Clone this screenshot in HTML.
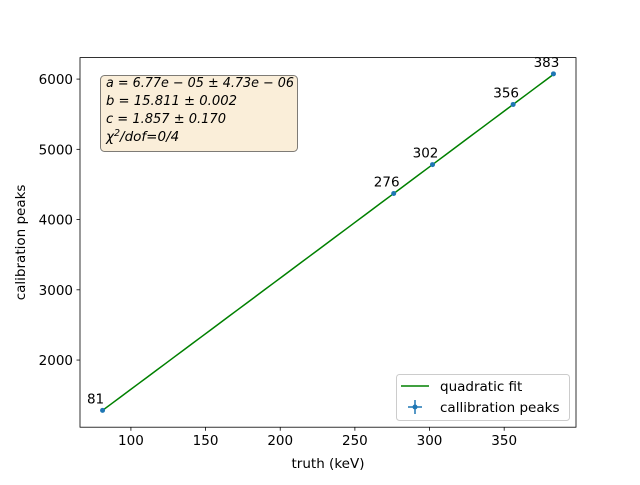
<!DOCTYPE html>
<html><head><meta charset="utf-8"><style>
body{margin:0;background:#fff}
svg{font-family:"DejaVu Sans","Liberation Sans",sans-serif}
</style></head><body>
<svg id="c" width="640" height="480"></svg>
<script>
const truth=[81,276,302,356,383];
const peaks=[1283,4371,4783,5639,6075];
const fitA=6.77e-05, fitB=15.811, fitC=1.857;
const xTicks=[100,150,200,250,300,350];
const yTicks=[2000,3000,4000,5000,6000];
const L=80,R=576,T=57.6,B=427.2;
const xmin=65.9,xmax=398.1,ymin=1044,ymax=6306;
const X=v=>L+(v-xmin)/(xmax-xmin)*(R-L);
const Y=v=>B-(v-ymin)/(ymax-ymin)*(B-T);
const svg=document.getElementById('c');
const NS='http://www.w3.org/2000/svg';
const FS=13.5;
function mk(t,a,txt){const e=document.createElementNS(NS,t);for(const k in a)e.setAttribute(k,a[k]);if(txt!==undefined)e.textContent=txt;svg.appendChild(e);return e;}
let e;
e=mk('rect',{x:L,y:T,width:R-L,height:B-T,fill:'#fff',stroke:'#000','stroke-width':0.8});

xTicks.forEach(v=>{const x=X(v);
e=mk('line',{x1:x,x2:x,y1:B,y2:B+3.5,stroke:'#000','stroke-width':0.8});
e=mk('text',{x:x,y:B+18,'font-size':FS,'text-anchor':'middle'},v);});
yTicks.forEach(v=>{const y=Y(v);
e=mk('line',{x1:L-3.5,x2:L,y1:y,y2:y,stroke:'#000','stroke-width':0.8});
e=mk('text',{x:L-7,y:y+5,'font-size':FS,'text-anchor':'end'},v);});
e=mk('text',{x:(L+R)/2,y:468,'font-size':FS,'text-anchor':'middle'},'truth (keV)');
e=mk('text',{x:25,y:(T+B)/2,'font-size':FS,'text-anchor':'middle',transform:`rotate(-90 25 ${(T+B)/2})`},'calibration peaks');
let pts=[];for(let i=0;i<=50;i++){const v=truth[0]+(truth[truth.length-1]-truth[0])*i/50;pts.push(X(v)+','+Y(fitA*v*v+fitB*v+fitC));}
e=mk('polyline',{points:pts.join(' '),fill:'none',stroke:'#008000','stroke-width':1.5});
truth.forEach((v,i)=>{const x=X(v),y=Y(peaks[i]);
e=mk('circle',{cx:x,cy:y,r:2.5,fill:'#1f77b4'});
e=mk('text',{x:x-7,y:y-7,'font-size':FS,'text-anchor':'middle'},v);});
e=mk('rect',{x:100.5,y:75.5,width:197,height:76,rx:4,fill:'#f5deb3','fill-opacity':0.5,stroke:'#000','stroke-opacity':0.5});
[['a = 6.77e − 05 ± 4.73e − 06',188],['b = 15.811 ± 0.002',131],['c = 1.857 ± 0.170',120]].forEach((s,i)=>{e=mk('text',{x:106,y:87+i*18,'font-size':FS,'font-style':'italic',textLength:s[1],lengthAdjust:'spacingAndGlyphs'},s[0]);});
e=mk('text',{x:106,y:141,'font-size':FS,'font-style':'italic'});
e.innerHTML='χ<tspan dy="-5" font-size="9.5">2</tspan><tspan dy="5">/dof=0/4</tspan>';
e=mk('rect',{x:396.5,y:374.5,width:173,height:46,rx:3,fill:'#fff','fill-opacity':0.8,stroke:'#ccc'});
e=mk('line',{x1:401,x2:429,y1:386,y2:386,stroke:'#008000','stroke-width':1.5});
e=mk('text',{x:440,y:391,'font-size':FS},'quadratic fit');
e=mk('line',{x1:408,x2:422,y1:407,y2:407,stroke:'#1f77b4','stroke-width':1.5});
e=mk('line',{x1:415,x2:415,y1:400,y2:414,stroke:'#1f77b4','stroke-width':1.5});
e=mk('circle',{cx:415,cy:407,r:2.5,fill:'#1f77b4'});
e=mk('text',{x:440,y:412,'font-size':FS},'callibration peaks');
</script>
</body></html>
